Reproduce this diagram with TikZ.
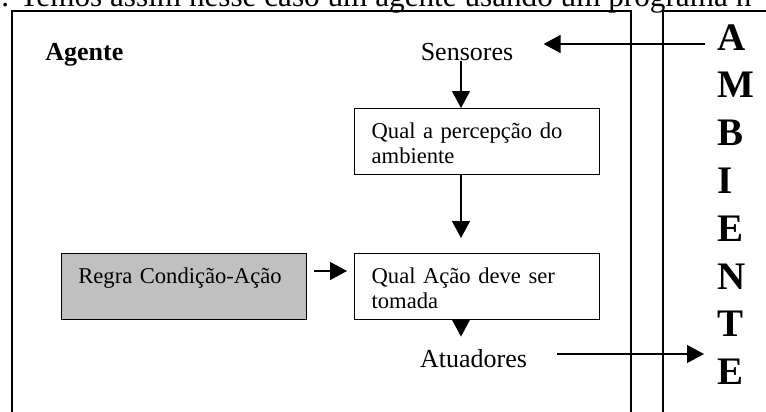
\documentclass[tikz,border=0pt]{standalone}
\usepackage{fontspec}
\setmainfont{Liberation Serif}
\usepackage{tikz}
\usetikzlibrary{calc,positioning,arrows.meta}
\definecolor{cinzaRegra}{RGB}{192,192,192}

\begin{document}
\begin{tikzpicture}[x=0.5pt,y=-0.5pt]
  \newcommand{\colseta}{461}
  \useasboundingbox (0,0) rectangle (766,412);
  \tikzstyle{caixa}=[draw,line width=0.65pt,anchor=north west,text width=105.5pt,inner xsep=8.5pt,inner ysep=0pt,text height=15pt,text depth=18pt,align=left,font=\fontsize{11.3}{12.5}\selectfont]
  \tikzstyle{rotulo}=[inner sep=0pt,anchor=base,font=\fontsize{13}{15}\selectfont]
  \tikzstyle{seta}=[line width=0.65pt,-{Triangle[length=8.5pt,width=9pt]}]
  \tikzstyle{moldura}=[line width=0.75pt]
  \node[anchor=base west,inner sep=0pt,font=\fontsize{15.6}{18}\selectfont] (texto) at (1,6) {. Temos assim nesse caso um agente usando um programa n};
  \draw[moldura] (12,430) -- (12,11) -- (631,11) -- (631,430);
  \draw[moldura] (663,430) -- (663,11) -- (790,11);
  \node[rotulo,anchor=base west,font=\bfseries\fontsize{13}{15}\selectfont] (agente) at (45,61) {Agente};
  \node[rotulo] (sens) at (467,61) {Sensores};
  \node[rotulo] (atu) at (473.5,367) {Atuadores};
  \node[caixa] (percep) at (354,108) {Qual a percepção do\\ambiente};
  \node[caixa] (acao) at (354,253) {Qual Ação deve ser\\tomada};
  \node[caixa,fill=cinzaRegra] (regra) at (60.7,253) {Regra Condição-Ação};
  \foreach \l [count=\i] in {A,M,B,I,E,N,T,E}{
    \node[anchor=base west,inner sep=0pt,font=\bfseries\fontsize{19.5}{21}\selectfont] (letra\i) at (717,{50+47.8*(\i-1)}) {\l};
  }
  \coordinate (linhaS) at (0,44);
  \coordinate (linhaR) at (0,271);
  \coordinate (linhaA) at (0,354);
  \coordinate (coluna) at (\colseta,0);
  \draw[seta,shorten <=6pt,shorten >=15pt] (letra1.west |- linhaS) -- (sens.east |- linhaS);
  \draw[seta] (sens.base -| coluna) -- (percep.north -| coluna);
  \draw[seta,shorten >=7.5pt] (percep.south -| coluna) -- (acao.north -| coluna);
  \draw[seta,shorten <=3.5pt,shorten >=3.5pt] (regra.east |- linhaR) -- (acao.west |- linhaR);
  \draw[seta,shorten >=6pt] (acao.south -| coluna) -- (atu.north -| coluna);
  \draw[seta,shorten <=15pt,shorten >=6.5pt] (atu.east |- linhaA) -- (letra8.west |- linhaA);
\end{tikzpicture}
\end{document}
